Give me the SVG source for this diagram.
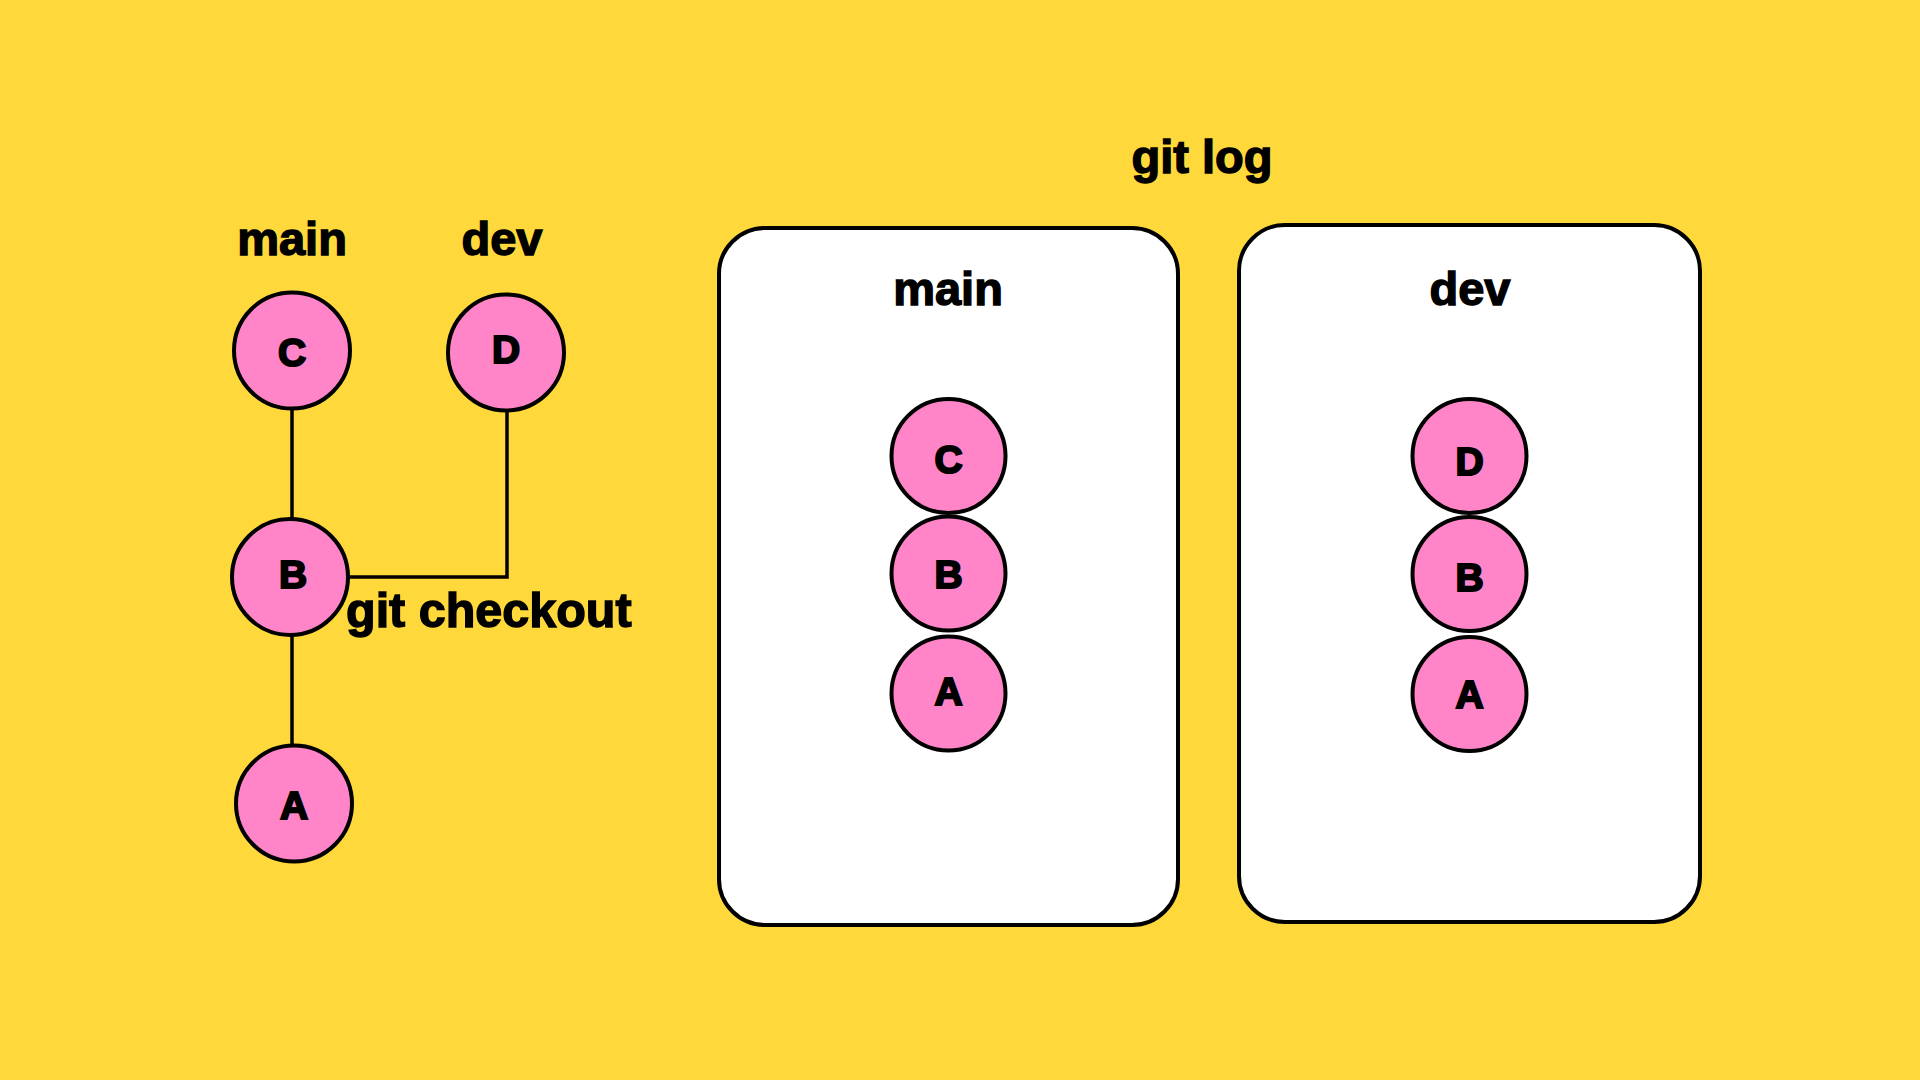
<svg xmlns="http://www.w3.org/2000/svg" width="1920" height="1080" viewBox="0 0 1920 1080">
  <style>
    .bg { fill: #FFD93B; }
    .panel { fill: #FFFFFF; stroke: #000000; stroke-width: 4; }
    .commit { fill: #FF85C8; stroke: #000000; stroke-width: 4; }
    .edge { fill: none; stroke: #000000; stroke-width: 3.5; }
    .label { font-family: "Liberation Sans", Arial, sans-serif; font-weight: bold; font-size: 47px; fill: #000000; stroke: #000000; stroke-width: 1.4; text-anchor: middle; }
    .letter { font-family: "Liberation Sans", Arial, sans-serif; font-weight: bold; font-size: 39px; fill: #000000; stroke: #000000; stroke-width: 2; text-anchor: middle; }
  </style>
  <rect class="bg" x="0" y="0" width="1920" height="1080"/>

  <text id="title-git-log" class="label" x="1202" y="173">git log</text>
  <text id="label-main" class="label" x="292" y="255">main</text>
  <text id="label-dev" class="label" x="502" y="255">dev</text>
  <text id="label-git-checkout" class="label" x="346" y="627" style="text-anchor:start;font-size:48.5px">git checkout</text>

  <g id="connectors">
    <line class="edge" x1="292" y1="410" x2="292" y2="519"/>
    <line class="edge" x1="292" y1="635" x2="292" y2="746"/>
    <polyline class="edge" points="348,577 507,577 507,410"/>
  </g>

  <g id="node-C">
    <circle class="commit" cx="292" cy="350.5" r="58"/>
    <text class="letter" x="292" y="366">C</text>
  </g>
  <g id="node-D">
    <circle class="commit" cx="506" cy="352.5" r="58"/>
    <text class="letter" x="506" y="363">D</text>
  </g>
  <g id="node-B">
    <circle class="commit" cx="290" cy="577" r="58"/>
    <text class="letter" x="293" y="588">B</text>
  </g>
  <g id="node-A">
    <circle class="commit" cx="294" cy="803.5" r="58"/>
    <text class="letter" x="294" y="819">A</text>
  </g>

  <g id="panel-main">
    <rect class="panel" x="719" y="228" width="459" height="697" rx="46" ry="46"/>
    <text class="label" x="948" y="305">main</text>
    <g id="panel-main-C">
      <circle class="commit" cx="948.5" cy="456" r="57"/>
      <text class="letter" x="948.5" y="473">C</text>
    </g>
    <g id="panel-main-B">
      <circle class="commit" cx="948.5" cy="573.5" r="57"/>
      <text class="letter" x="948.5" y="588">B</text>
    </g>
    <g id="panel-main-A">
      <circle class="commit" cx="948.5" cy="693.5" r="57"/>
      <text class="letter" x="948.5" y="705">A</text>
    </g>
  </g>

  <g id="panel-dev">
    <rect class="panel" x="1239" y="225" width="461" height="697" rx="46" ry="46"/>
    <text class="label" x="1470" y="305">dev</text>
    <g id="panel-dev-D">
      <circle class="commit" cx="1469.5" cy="456" r="57"/>
      <text class="letter" x="1469.5" y="475">D</text>
    </g>
    <g id="panel-dev-B">
      <circle class="commit" cx="1469.5" cy="574" r="57"/>
      <text class="letter" x="1469.5" y="591">B</text>
    </g>
    <g id="panel-dev-A">
      <circle class="commit" cx="1469.5" cy="694" r="57"/>
      <text class="letter" x="1469.5" y="708">A</text>
    </g>
  </g>
</svg>
